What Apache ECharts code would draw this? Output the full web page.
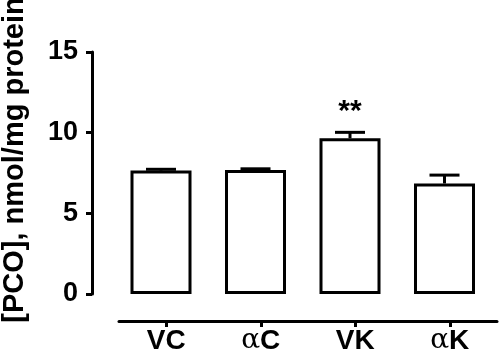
<!DOCTYPE html>
<html>
<head>
<meta charset="utf-8">
<script src="https://cdn.jsdelivr.net/npm/echarts@6/dist/echarts.min.js"></script>
<style>
html,body{margin:0;padding:0;background:#fff;}
#chart{width:500px;height:363px;}
</style>
</head>
<body>
<div id="chart"></div>
<script>
const categories = ['VC', 'αC', 'VK', 'αK'];
const means = [7.65, 7.68, 9.65, 6.85];
const errors = [0.08, 0.08, 0.37, 0.52];
const significance = ['', '', '**', ''];
const yTicks = [0, 5, 10, 15];
const yTitle = '[PCO], nmol/mg protein';

const FONT = '"Liberation Sans", Arial, Helvetica, sans-serif';
const chart = echarts.init(document.getElementById('chart'), null, {renderer: 'canvas'});

function catLabel(v) {
  if (v.charAt(0) === 'α') return '{a|α}{b|' + v.slice(1) + '}';
  return '{b|' + v + '}';
}

const option = {
  animation: false,
  backgroundColor: '#ffffff',
  grid: [
    {left: 113.75, width: 378, top: 52, height: 242, containLabel: false},
    {left: 119, width: 378, top: 52, height: 242, containLabel: false}
  ],
  xAxis: [
    {type: 'category', gridIndex: 0, data: categories, show: false},
    {
      type: 'category', gridIndex: 1, data: categories, position: 'bottom', offset: 27,
      axisLine: {show: true, onZero: false, lineStyle: {color: '#000', width: 3}},
      axisTick: {show: true, alignWithLabel: true, length: 6, lineStyle: {color: '#000', width: 3}},
      axisLabel: {
        margin: 6,
        formatter: catLabel,
        rich: {
          a: {fontFamily: '"DejaVu Serif", "Liberation Serif", serif', fontSize: 28, color: '#000', fontWeight: 'normal'},
          b: {fontFamily: FONT, fontSize: 28, fontWeight: 'bold', color: '#000'}
        }
      }
    }
  ],
  yAxis: [
    {
      type: 'value', gridIndex: 0, min: 0, max: 15, interval: 5, offset: 21.75,
      axisLine: {show: true, lineStyle: {color: '#000', width: 3}},
      axisTick: {show: true, length: 6, lineStyle: {color: '#000', width: 3}},
      splitLine: {show: false},
      axisLabel: {
        margin: 14, color: '#000', fontSize: 27, fontWeight: 'bold', fontFamily: FONT,
        formatter: function (v) { return yTicks.indexOf(v) >= 0 ? String(v) : ''; }
      }
    },
    {type: 'value', gridIndex: 1, min: 0, max: 15, show: false}
  ],
  graphic: [
    {
      type: 'text', x: 15, y: 160, rotation: Math.PI / 2,
      style: {
        text: yTitle, fill: '#000', font: 'bold 29px ' + FONT,
        textAlign: 'center', textVerticalAlign: 'middle'
      }
    }
  ],
  series: [
    {
      type: 'bar', xAxisIndex: 0, yAxisIndex: 0, barWidth: 61,
      itemStyle: {color: '#fff', borderColor: '#000', borderWidth: 3},
      data: means.map(function (m, i) {
        return {
          value: m,
          label: {
            show: significance[i] !== '', formatter: significance[i], position: 'top', distance: 12,
            fontSize: 30, fontWeight: 'bold', color: '#000', fontFamily: FONT
          }
        };
      }),
      z: 2
    },
    {
      type: 'custom', xAxisIndex: 0, yAxisIndex: 0, z: 3,
      data: means.map(function (m, i) { return [i, m, m + errors[i]]; }),
      renderItem: function (params, api) {
        const x = api.value(0);
        const lo = api.coord([x, api.value(1)]);
        const hi = api.coord([x, api.value(2)]);
        const half = 15;
        return {
          type: 'group',
          children: [
            {type: 'line', shape: {x1: lo[0], y1: lo[1], x2: hi[0], y2: hi[1]}, style: {stroke: '#000', lineWidth: 3}},
            {type: 'line', shape: {x1: hi[0] - half, y1: hi[1], x2: hi[0] + half, y2: hi[1]}, style: {stroke: '#000', lineWidth: 3}}
          ]
        };
      }
    }
  ]
};
chart.setOption(option);
</script>
</body>
</html>
